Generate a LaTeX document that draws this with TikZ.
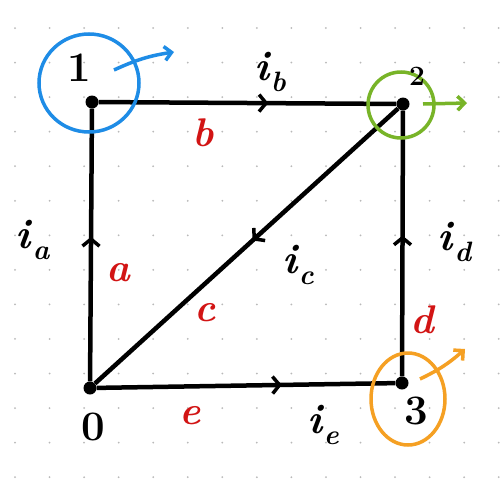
\documentclass[tikz,border=0pt]{standalone}
\usepackage{fontspec}
\usetikzlibrary{arrows.meta,decorations.markings}
\definecolor{hblue}{RGB}{30,140,230}
\definecolor{hgreen}{RGB}{120,180,40}
\definecolor{horange}{RGB}{245,160,35}
\definecolor{hred}{RGB}{210,20,20}
\definecolor{griddot}{RGB}{185,185,185}
\newcommand{\curlab}[1]{\textit{i}\raisebox{-0.28em}{\fontsize{28}{30}\selectfont\textit{#1}}}
\begin{document}
\begin{tikzpicture}[x=1pt,y=-1pt,
  vdot/.style={circle,fill=black,inner sep=0pt,minimum size=13pt},
  wire/.style={line width=4.5pt,postaction={decorate},
    decoration={markings,mark=at position #1 with {\arrow{Straight Barb[length=7pt,width=17pt,line width=3.5pt]}}}},
  lbl/.style={inner sep=0pt,font=\fontsize{42}{44}\selectfont\bfseries},
  num/.style={inner sep=0pt,font=\fontsize{42}{44}\selectfont\bfseries},
  rlbl/.style={inner sep=0pt,text=hred,font=\fontsize{40}{42}\selectfont\bfseries\itshape},
  ring/.style={line width=3.5pt},
  outarrow/.style={line width=3.5pt,-{Straight Barb[length=7pt,width=14pt]}}]
\useasboundingbox (0,0) rectangle (500,482);
\fill[white] (0,0) rectangle (500,482);
% grid dots
\foreach \i in {0,...,14}{
  \foreach \j in {0,...,13}{
    \fill[griddot] (15+34.55*\i,28+34.55*\j) circle (1pt);
  }
}
% nodes
\node[vdot] (n1) at (92,102) {};
\node[vdot] (n2) at (403,104) {};
\node[vdot] (n0) at (90,388) {};
\node[vdot] (n3) at (402,383) {};
% branches
\draw[wire=0.57] (n1) -- (n2);
\draw[wire=0.53] (n0) -- (n1);
\draw[wire=0.53] (n3) -- (n2);
\draw[wire=0.48] (n2) -- (n0);
\draw[wire=0.62] (n0) -- (n3);
% cut-set circles
\draw[hblue,ring] (89,83) ellipse (50pt and 49pt);
\draw[hgreen,ring] (401,105) circle (33pt);
\draw[horange,ring] (408,399) ellipse (37pt and 46pt);
\coordinate (b1) at (114,70);
\coordinate (b2) at (174,52);
\coordinate (g1) at (423,104);
\coordinate (g2) at (467,103);
\coordinate (o1) at (420,379);
\coordinate (o2) at (465,349);
\draw[hblue,outarrow] (b1) to[bend left=8] (b2);
\draw[hgreen,outarrow] (g1) -- (g2);
\draw[horange,outarrow] (o1) to[bend right=8] (o2);
% node numbers
\node[num] (t1) at (79,68) {1};
\node[inner sep=0pt,font=\fontsize{28}{30}\selectfont\bfseries] (t2) at (417,76) {2};
\node[num] (t3) at (416,411) {3};
\node[num] (t0) at (93,427) {0};
% current labels
\node[lbl] (ib) at (270,72) {\curlab{b}};
\node[lbl] (ia) at (33,240) {\curlab{a}};
\node[lbl] (ic) at (298,265) {\curlab{c}};
\node[lbl] (id) at (455,242) {\curlab{d}};
\node[lbl] (ie) at (323,425) {\curlab{e}};
% branch names
\node[rlbl] (lb) at (203,133) {b};
\node[rlbl] (la) at (118,273) {a};
\node[rlbl] (lc) at (205,313) {c};
\node[rlbl] (ld) at (422,320) {d};
\node[rlbl] (le) at (190,416) {e};
\end{tikzpicture}
\end{document}
